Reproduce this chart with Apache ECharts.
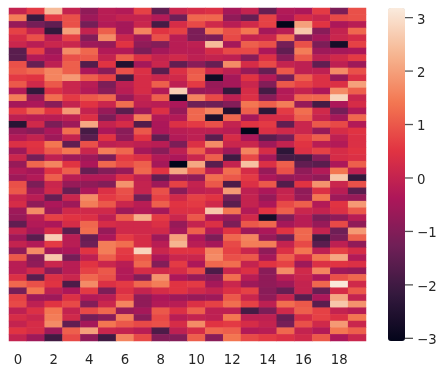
<!DOCTYPE html>
<html>
<head>
<meta charset="utf-8">
<style>
html, body { margin: 0; padding: 0; background: #fff; }
#main { width: 446px; height: 376px; }
</style>
<script src="https://cdn.jsdelivr.net/npm/echarts@6/dist/echarts.min.js"></script>
</head>
<body>
<div id="main"></div>
<script>
var columns = ['0','1','2','3','4','5','6','7','8','9','10','11','12','13','14','15','16','17','18','19'];
var colorbarTicks = [-3, -2, -1, 0, 1, 2, 3];
var rocket = ['#03051a', '#35193e', '#701f57', '#ad1759', '#e13342', '#f37651', '#f6b48f', '#faebdd'];
var colorMin = -3.05;
var colorMax = 3.18;
// one line per row, top to bottom
var values = [
[0.0,0.6,2.4,0.0,-0.8,-0.2,-0.3,0.7,-1.5,0.1,0.3,0.4,-0.5,0.0,-1.4,-0.3,-0.4,0.6,-1.1,0.9],
[1.5,-2.1,0.6,0.9,-0.6,-0.2,0.0,0.0,-0.3,-1.3,1.2,1.2,-0.8,-1.4,0.7,-0.4,0.3,0.1,0.8,0.9],
[-0.7,-1.2,-1.5,0.9,-1.2,-0.3,-0.5,0.1,-1.9,0.3,0.8,0.2,-0.2,0.2,0.7,-3.05,2.0,0.5,-0.4,-0.2],
[0.7,0.0,-2.2,2.0,0.0,1.1,-0.5,1.6,0.5,0.7,-1.1,1.4,0.9,1.4,-0.5,-0.2,2.6,-0.9,0.0,1.2],
[0.3,0.9,-0.2,0.7,-1.0,1.7,0.1,-0.6,0.9,-0.2,-1.1,-1.1,0.8,0.0,0.1,1.3,-0.9,-0.5,0.1,0.3],
[0.1,-0.2,0.1,0.1,-0.6,-0.7,0.5,-0.8,-1.0,-0.2,-0.1,2.4,-0.5,1.1,0.9,-1.2,0.9,-1.1,-2.7,0.7],
[-1.6,0.7,-0.6,1.7,1.2,-0.3,-0.3,-1.1,-0.5,-0.2,-0.2,0.3,0.8,0.8,-0.4,-1.5,1.5,-0.6,-0.5,-0.4],
[-1.6,-0.3,-0.4,0.9,1.0,0.0,1.1,0.4,0.0,0.2,-0.1,0.0,-0.1,-0.9,0.4,-0.9,1.0,-0.1,0.2,0.6],
[0.9,-1.4,-0.1,1.1,-1.7,0.5,-2.5,-0.5,0.1,-1.5,-0.9,-1.4,1.7,0.3,0.8,0.0,-0.1,-1.5,-0.1,-0.6],
[1.0,1.2,1.6,1.1,-0.4,-0.9,0.9,0.4,-1.6,0.4,1.0,0.2,-0.1,-0.7,-1.4,1.0,-0.1,-0.1,1.7,0.9],
[0.6,0.5,1.6,1.9,1.1,0.7,-2.0,0.3,0.1,0.2,1.1,-2.8,-0.5,0.5,-0.3,-1.2,1.1,0.4,-0.7,0.4],
[1.0,0.2,1.0,0.1,-0.2,-1.1,-0.1,0.3,1.1,-0.1,0.6,-0.7,-0.5,0.1,-1.0,1.0,0.7,0.4,0.4,2.0],
[-0.3,-2.2,0.4,0.1,-0.3,-0.9,-0.2,0.3,-0.3,2.7,-0.7,-0.6,-2.2,0.3,-1.9,-0.3,0.0,-0.4,1.7,1.1],
[1.5,-0.7,1.3,0.6,1.0,1.2,-0.7,0.0,1.1,-2.9,1.6,0.8,-0.1,0.4,-0.9,-0.2,1.2,1.2,2.8,0.1],
[-0.5,-0.4,-0.9,0.0,0.5,0.1,1.3,-0.1,-0.2,-0.4,-1.3,-1.3,-1.0,1.4,1.1,1.5,-0.7,-1.9,-0.4,0.3],
[0.6,1.2,0.5,1.9,0.0,-0.7,-1.6,-0.6,0.4,-0.7,1.2,1.6,-2.5,1.1,-2.3,0.6,1.3,0.2,-1.2,-0.3],
[-0.1,-0.2,-0.2,-0.1,0.4,-1.1,-0.2,1.5,-0.3,-0.3,1.2,-2.6,1.2,-0.5,0.3,0.3,1.1,0.0,-0.5,1.2],
[-2.4,0.2,-1.1,-0.6,2.1,0.0,0.3,-1.7,-0.4,0.4,0.6,0.9,0.0,0.5,0.6,-1.5,0.1,1.0,0.8,-0.3],
[-0.7,-0.9,-0.4,1.3,-1.9,-0.4,-0.9,1.0,-0.4,-0.2,-0.1,-0.1,-0.2,-3.05,0.4,0.2,0.1,-0.7,0.3,0.5],
[-0.3,0.0,-0.6,0.0,-1.6,0.5,-0.8,0.5,-1.5,-0.3,-0.1,-1.6,0.3,-0.4,-1.6,-1.2,0.7,1.1,-0.1,0.4],
[0.4,0.5,1.4,-1.5,0.9,-0.1,0.0,-0.1,-0.2,-1.1,0.4,1.7,0.1,0.1,-0.6,0.0,0.5,-0.2,-0.3,0.4],
[-0.6,0.4,1.0,1.4,0.1,1.5,1.2,-0.5,-0.9,-0.1,1.1,0.0,-0.6,1.6,0.3,-2.3,0.4,0.7,0.3,0.5],
[0.1,-1.2,-0.1,-0.6,-0.6,-1.1,0.6,0.4,-0.3,-0.4,0.1,1.1,-2.0,0.8,-0.5,-1.9,-1.9,-0.9,0.3,0.4],
[-0.7,1.2,1.6,0.5,-0.4,1.2,0.8,1.1,-0.5,-3.05,2.1,-1.6,0.0,2.5,0.4,1.1,-1.5,-1.6,-0.4,1.1],
[-0.3,-0.5,0.5,1.1,-1.4,-1.0,-0.7,1.2,0.5,2.1,1.1,-0.1,1.3,0.3,-0.7,0.9,-0.8,-0.3,1.4,-0.1],
[-0.6,-0.3,1.1,-0.2,-0.3,-0.3,0.4,-0.1,-1.5,-0.7,-0.8,1.3,1.0,0.6,-0.4,-0.7,-0.6,-0.8,2.6,-2.2],
[0.9,-1.1,0.1,-0.7,-0.8,-1.0,1.8,0.0,-0.6,0.7,0.0,1.0,-1.8,0.4,1.0,-1.7,0.5,1.8,0.1,0.9],
[1.0,-0.6,0.2,-1.4,-0.4,0.4,0.9,0.0,0.9,-0.9,-0.1,0.0,1.9,-0.1,-0.4,0.0,-0.8,0.4,-0.2,-1.6],
[0.1,-0.2,-1.4,0.1,1.7,0.6,0.8,-1.3,0.7,0.2,0.7,0.5,-1.2,0.0,-0.7,0.1,-0.7,1.4,-0.6,-0.7],
[0.3,-0.8,-0.4,-0.6,1.5,1.0,0.1,-0.2,1.1,0.5,0.6,0.2,-1.6,0.0,-0.4,0.8,1.1,-0.3,0.5,1.9],
[-0.6,1.7,-0.6,0.2,0.2,0.2,-0.6,-0.3,-0.5,0.4,0.4,2.6,1.4,-0.3,0.5,1.1,0.1,0.0,0.4,1.0],
[-0.7,-0.2,0.7,0.5,0.4,-0.1,1.1,2.2,0.6,0.1,1.0,-0.4,-0.7,0.2,-2.7,-1.0,-0.2,-1.1,-0.8,-0.2],
[-1.5,-0.3,-0.4,0.3,1.2,0.3,0.2,0.2,0.4,-0.7,0.0,0.4,-1.1,1.0,1.2,-0.5,-0.2,-0.7,0.8,-0.8],
[0.0,-0.5,0.3,-1.6,1.3,-0.7,0.2,0.2,0.2,-0.5,1.1,-0.3,0.5,-0.6,-0.4,0.5,1.2,0.0,-1.3,1.9],
[-0.6,-1.6,2.7,-0.2,-1.4,-0.4,0.6,0.3,-0.6,2.0,-0.4,-1.1,1.2,1.6,-0.7,-1.3,1.2,-2.0,-1.1,1.1],
[0.0,-0.3,0.6,-0.2,-1.3,1.5,1.3,0.3,-0.2,2.3,-0.2,-0.5,0.8,1.5,1.5,0.0,0.8,-1.6,-0.1,-0.8],
[-0.8,1.7,-0.5,-0.4,0.5,1.5,0.6,2.8,0.1,0.5,0.5,1.6,0.7,0.1,-0.8,0.4,1.4,-0.1,0.7,0.3],
[1.0,-0.9,2.6,-1.2,-0.1,1.1,0.5,1.0,-0.4,0.1,0.1,1.7,0.9,1.0,-0.5,1.1,0.3,1.4,2.1,-0.3],
[-0.2,-0.8,0.1,-0.2,0.5,0.1,-0.2,1.2,-1.0,0.6,-0.4,1.2,1.3,0.0,0.5,0.7,-0.6,0.4,0.5,0.4],
[-0.2,0.2,-0.9,-0.2,0.7,1.0,-0.3,0.3,0.2,0.3,0.8,-1.8,0.1,0.4,-0.9,1.7,0.2,1.6,-0.6,-0.7],
[0.4,-1.6,0.4,0.1,1.2,0.9,-0.3,-1.0,1.8,-0.4,-0.7,-0.9,1.3,-0.2,-0.8,-0.2,0.1,-0.4,0.9,1.2],
[1.2,0.9,0.5,-1.8,1.7,0.4,0.6,1.2,1.5,0.5,0.6,-0.5,0.1,-0.6,-0.8,-0.6,0.0,1.2,3.15,0.2],
[-1.2,1.4,-0.1,-0.4,0.6,-1.1,0.4,0.0,0.3,0.5,0.2,0.0,0.4,0.7,-0.9,-1.4,0.0,-1.4,0.3,1.0],
[0.7,-0.6,-0.6,0.4,-0.3,-0.2,0.7,-0.8,-0.4,-0.6,-0.7,-0.6,1.0,0.1,-0.8,0.0,-1.6,-0.4,2.1,0.0],
[0.8,-0.1,0.5,0.8,-1.0,0.1,1.6,-0.8,-0.3,-0.2,0.4,0.7,1.3,0.7,-0.1,1.3,1.0,-1.6,2.6,1.8],
[-0.1,0.4,1.4,0.0,0.8,1.2,-0.7,-0.5,1.0,0.4,1.1,-0.1,-0.1,-1.9,-1.1,0.2,1.1,0.7,0.0,-0.2],
[0.3,0.1,1.5,0.2,-1.2,-0.9,1.5,-0.9,0.8,-0.2,0.0,-0.1,1.4,-0.1,-0.1,-1.4,0.3,0.7,0.4,1.4],
[0.0,0.3,1.7,-1.5,-0.5,1.4,1.0,0.8,0.9,0.3,1.7,0.5,0.6,0.3,0.0,-1.2,0.9,0.2,1.9,0.1],
[0.5,0.3,-0.6,1.1,2.0,0.1,0.0,-0.2,-1.8,-0.1,0.3,1.2,1.1,-0.3,-0.2,1.2,0.0,-0.3,1.4,1.1],
[0.0,-0.6,-2.0,0.8,-0.8,-2.0,1.6,0.8,-1.0,-1.0,1.1,-0.9,1.4,0.8,0.6,0.4,0.2,1.0,-0.4,0.1]
];

var rowNames = [];
var cells = [];
for (var r = 0; r < values.length; r++) {
    rowNames.push(String(r));
    for (var c = 0; c < columns.length; c++) {
        cells.push([c, r, values[r][c]]);
    }
}

// axisTick did not show up on the colorbar axis, so the ticks go through a small custom series
function renderColorbarTick(params, api) {
    var pt = api.coord([1, api.value(1)]);
    return {
        type: 'line',
        shape: { x1: pt[0], y1: pt[1], x2: pt[0] + 8, y2: pt[1] },
        style: { stroke: '#555', lineWidth: 1.3 }
    };
}

var chart = echarts.init(document.getElementById('main'), null, { renderer: 'canvas' });
chart.setOption({
    animation: false,
    backgroundColor: '#fff',
    textStyle: { fontFamily: 'DejaVu Sans' },
    grid: [
        { left: 9, top: 8, width: 357, height: 333 },
        { left: 388, top: 8, width: 17, height: 333 }
    ],
    xAxis: [{
        type: 'category',
        gridIndex: 0,
        data: columns,
        axisLine: { show: false },
        axisTick: { show: false },
        splitLine: { show: false },
        axisLabel: { interval: 1, color: '#262626', fontSize: 13.3, margin: 13 }
    }, {
        type: 'value',
        gridIndex: 1,
        min: 0,
        max: 1,
        show: false
    }],
    yAxis: [{
        type: 'category',
        gridIndex: 0,
        inverse: true,
        data: rowNames,
        show: false
    }, {
        type: 'value',
        gridIndex: 1,
        position: 'right',
        min: colorMin,
        max: colorMax,
        axisLine: { show: false },
        axisTick: { show: false },
        splitLine: { show: false },
        axisLabel: {
            color: '#262626',
            fontSize: 13.3,
            margin: 12,
            verticalAlign: 'top',
            lineHeight: 5,
            customValues: colorbarTicks,
            formatter: function(v) {
                return String(v).replace('-', '\u2212');
            }
        }
    }],
    visualMap: {
        type: 'continuous',
        seriesIndex: 0,
        min: colorMin,
        max: colorMax,
        left: 388,
        top: 8,
        itemWidth: 17,
        itemHeight: 333,
        padding: 0,
        text: null,
        showLabel: false,
        calculable: false,
        realtime: false,
        hoverLink: false,
        inRange: { color: rocket }
    },
    series: [{
        type: 'heatmap',
        xAxisIndex: 0,
        yAxisIndex: 0,
        data: cells,
        progressive: 0,
        itemStyle: { borderWidth: 0 },
        emphasis: { disabled: true }
    }, {
        type: 'custom',
        xAxisIndex: 1,
        yAxisIndex: 1,
        silent: true,
        renderItem: renderColorbarTick,
        data: colorbarTicks.map(function(v) { return [1, v]; })
    }]
});
</script>
</body>
</html>
